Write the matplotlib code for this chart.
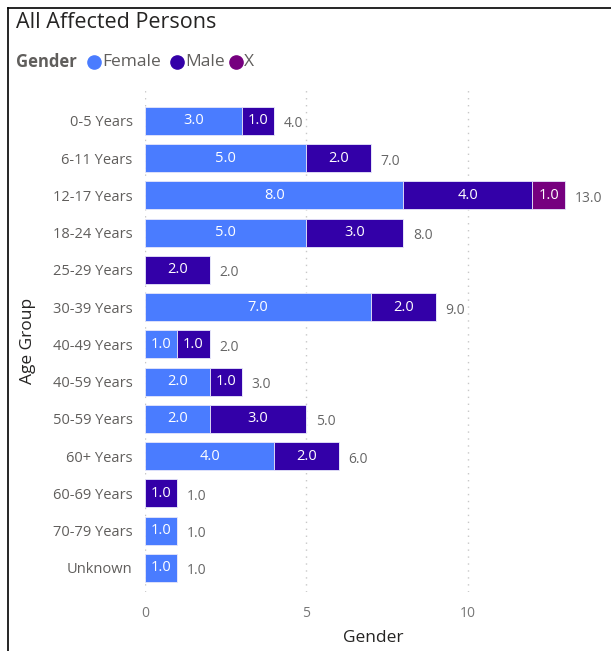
import numpy as np
import matplotlib.pyplot as plt
from matplotlib.lines import Line2D

plt.rcParams['font.family'] = ['Open Sans', 'DejaVu Sans']

groups = ['0-5 Years', '6-11 Years', '12-17 Years', '18-24 Years', '25-29 Years',
          '30-39 Years', '40-49 Years', '40-59 Years', '50-59 Years', '60+ Years',
          '60-69 Years', '70-79 Years', 'Unknown']
female = [3, 5, 8, 5, 0, 7, 1, 2, 2, 4, 0, 1, 1]
male = [1, 2, 4, 3, 2, 2, 1, 1, 3, 2, 1, 0, 0]
x_vals = [0, 0, 1, 0, 0, 0, 0, 0, 0, 0, 0, 0, 0]

series = [('Female', female, '#4A7CFF'),
          ('Male', male, '#3300A8'),
          ('X', x_vals, '#76007F')]

fig = plt.figure(figsize=(6.11, 6.51), dpi=100)
W, H = 611, 651
ax = fig.add_axes([145 / W, 1 - 592 / H, (597 - 145) / W, (592 - 90) / H])

y = np.arange(len(groups))
left = np.zeros(len(groups))
for name, vals, col in series:
    vals = np.array(vals, dtype=float)
    ax.barh(y, vals, left=left, height=0.75, color=col, edgecolor='#E6E6FA', linewidth=0.6, zorder=3)
    for yi, v, l in zip(y, vals, left):
        if v > 0:
            ax.text(l + v / 2, yi, f'{v:.1f}', ha='center', va='center', color='white',
                    fontsize=10.5, zorder=4)
    left += vals

for yi, tot in zip(y, left):
    ax.text(tot + 0.3, yi + 0.08, f'{tot:.1f}', ha='left', va='center', color='#666666', fontsize=10)

ax.set_xlim(0, 14)
ax.set_ylim(len(groups) - 0.5 + 0.15, -0.5 - 0.33)
ax.set_yticks(y)
ax.set_yticklabels(groups, color='#605E5C', fontsize=10.5)
ax.set_xticks([0, 5, 10])
ax.set_xticklabels(['0', '5', '10'], color='#777777', fontsize=10)
ax.tick_params(length=0, pad=10)
ax.tick_params(axis='y', pad=9)
ax.xaxis.grid(True, linestyle=(0, (1, 4)), color='#C8C8C8', linewidth=1)
for s in ax.spines.values():
    s.set_visible(False)

ax.set_xlabel('Gender', fontsize=12.5, color='#252423')
ax.xaxis.set_label_coords((373 - 145) / (597 - 145), -(630 - 592) / (592 - 90))
ax.set_ylabel('Age Group', fontsize=12.5, color='#252423')
ax.yaxis.set_label_coords(-(145 - 36) / (597 - 145), 0.5)

# title and legend
fig.text(16 / W, 1 - 22 / H, 'All Affected Persons', fontsize=15.5, color='#252423', va='center')
fig.text(16 / W, 1 - 62 / H, 'Gender', fontsize=12, color='#605E5C', fontweight='bold', va='center')
xpos = [94, 177, 236]
for (name, vals, col), xp in zip(series, xpos):
    fig.add_artist(Line2D([xp / W], [1 - 62 / H], marker='o', markersize=9.5, color=col,
                          linestyle='none', transform=fig.transFigure))
    fig.text((xp + 8) / W, 1 - 62 / H, name, fontsize=12.5, color='#605E5C', va='center')

# frame
fig.add_artist(Line2D([8 / W, 8 / W], [0, 1 - 8 / H], color='black', linewidth=1.2, transform=fig.transFigure))
fig.add_artist(Line2D([8 / W, 1], [1 - 8 / H, 1 - 8 / H], color='black', linewidth=1.2, transform=fig.transFigure))

fig.savefig('out.png', dpi=100)
